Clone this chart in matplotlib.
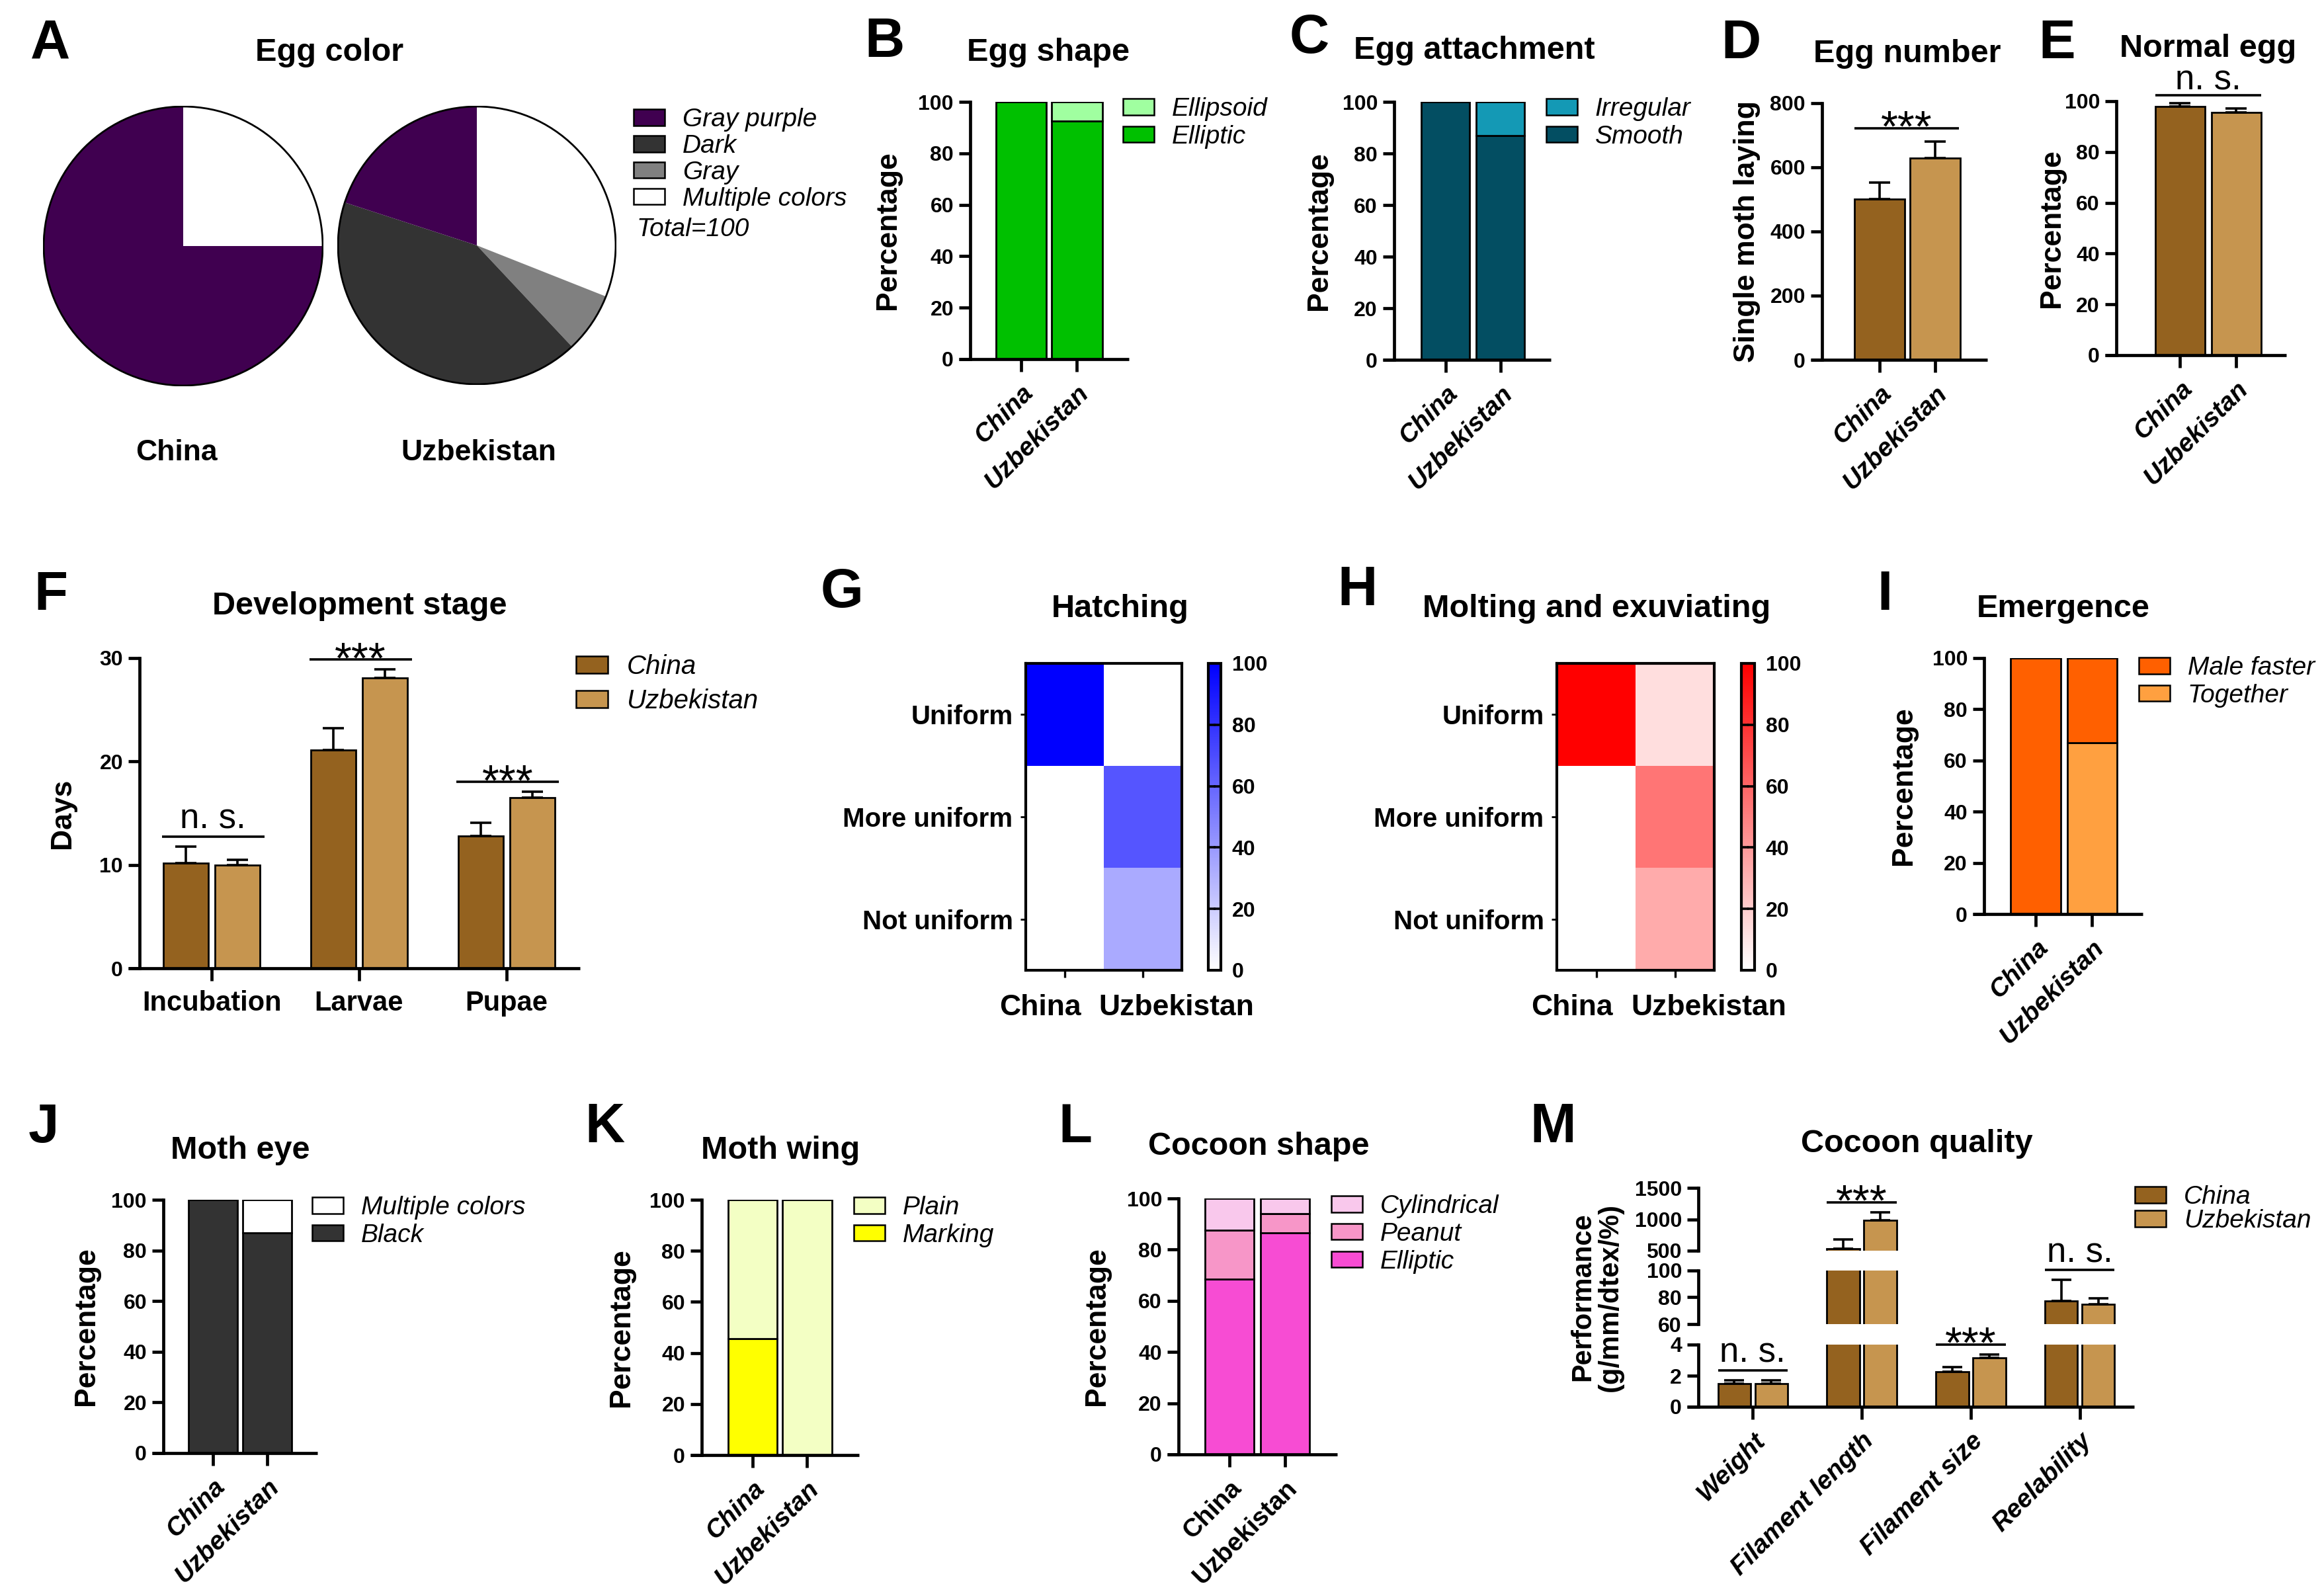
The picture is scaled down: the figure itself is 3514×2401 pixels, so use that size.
import numpy as np
import matplotlib
matplotlib.use('Agg')
import matplotlib.pyplot as plt
from matplotlib.colors import LinearSegmentedColormap
from matplotlib.patches import Circle, Patch
from matplotlib.lines import Line2D
from matplotlib.transforms import offset_copy, ScaledTranslation

plt.rcParams['font.family'] = ['Liberation Sans', 'DejaVu Sans']
plt.rcParams['font.weight'] = 'bold'

# ------------------------------------------------------------------ data
groups = ['China', 'Uzbekistan']

egg_color_labels = ['Gray purple', 'Dark', 'Gray', 'Multiple colors']
egg_color_china = [75, 0, 0, 25]
egg_color_uzbekistan = [20, 42, 7, 31]

egg_shape_labels = ['Ellipsoid', 'Elliptic']
egg_shape_elliptic = [100, 92.5]
egg_shape_ellipsoid = [0, 7.5]

egg_attach_labels = ['Irregular', 'Smooth']
egg_attach_smooth = [100, 87]
egg_attach_irregular = [0, 13]

egg_number_mean = [501, 628]
egg_number_err = [51, 52]

normal_egg_mean = [97.9, 95.6]
normal_egg_err = [1.2, 1.5]

dev_stages = ['Incubation', 'Larvae', 'Pupae']
dev_china = [10.2, 21.1, 12.8]
dev_china_err = [1.6, 2.1, 1.3]
dev_uzbekistan = [10.0, 28.1, 16.5]
dev_uzbekistan_err = [0.5, 0.8, 0.55]
dev_sig = ['n. s.', '***', '***']

uniform_levels = ['Uniform', 'More uniform', 'Not uniform']
hatching_china = [100, 0, 0]
hatching_uzbekistan = [0, 66.7, 33.3]
molting_china = [100, 0, 0]
molting_uzbekistan = [13, 54, 33]

emergence_labels = ['Male faster', 'Together']
emergence_together = [0, 67]
emergence_male_faster = [100, 33]

eye_labels = ['Multiple colors', 'Black']
eye_black = [100, 87]
eye_multiple = [0, 13]

wing_labels = ['Plain', 'Marking']
wing_marking = [45.5, 0]
wing_plain = [54.5, 100]

cocoon_labels = ['Cylindrical', 'Peanut', 'Elliptic']
cocoon_elliptic = [68.5, 86.5]
cocoon_peanut = [19.2, 7.6]
cocoon_cylindrical = [12.3, 5.9]

quality_traits = ['Weight', 'Filament length', 'Filament size', 'Reelability']
quality_china = [1.47, 536, 2.26, 77.4]
quality_china_err = [0.25, 143, 0.31, 15.4]
quality_uzbekistan = [1.49, 982, 3.13, 74.9]
quality_uzbekistan_err = [0.23, 133, 0.24, 4.2]
quality_sig = ['n. s.', '***', '***', 'n. s.']

# ------------------------------------------------------------------ style
C_PURPLE, C_DARK, C_GRAY, C_MULTI = '#400050', '#333333', '#808080', '#FFFFFF'
C_ELLIPSOID, C_ELLIPTIC = '#A0FFA0', '#00C000'
C_IRREG, C_SMOOTH = '#1499B5', '#034E62'
C_CHINA, C_UZB = '#94621F', '#C6954F'
C_MALE, C_TOGETHER = '#FF6000', '#FFA040'
C_BLACK = '#333333'
C_PLAIN, C_MARK = '#F3FFC4', '#FFFF00'
C_CYL, C_PEANUT, C_ELL2 = '#F9C8EC', '#F796C8', '#F74CD3'

W, H, DPI = 3514, 2401, 200
SPW = 1.7
fig = plt.figure(figsize=(W / DPI, H / DPI), dpi=DPI)


def pt(px):
    return px * 72.0 / DPI


def px_axes(l, t, r, b):
    return fig.add_axes([l / W, 1 - b / H, (r - l) / W, (b - t) / H])


def ftext(x, y, s, **kw):
    return fig.text(x / W, 1 - y / H, s, **kw)


def style_bar_axes(ax, xlim, ylim, yticks):
    ax.set_xlim(*xlim)
    ax.set_ylim(*ylim)
    ax.set_yticks(yticks)
    for s in ('top', 'right', 'bottom'):
        ax.spines[s].set_visible(False)
    ax.spines['left'].set_linewidth(SPW)
    ax.tick_params(axis='y', length=6, width=SPW, labelsize=11.5, pad=3)
    ax.tick_params(axis='x', length=7, width=SPW)
    ext = (6 * DPI / 72.0) / (ax.get_position().width * W)
    ax.add_line(Line2D([-ext, 1], [0, 0], transform=ax.transAxes, color='black',
                       lw=SPW, clip_on=False, solid_capstyle='butt'))
    ax.patch.set_visible(False)


def rot_labels(ax, labels, italic=True, fs=14, pad=5):
    ax.set_xticks(range(len(labels)))
    ax.set_xticklabels(labels, rotation=45, ha='right', va='top', rotation_mode='anchor',
                       fontsize=fs, fontstyle='italic' if italic else 'normal')
    ax.tick_params(axis='x', pad=pad)


def stacked(ax, layers, colors, width):
    x = np.arange(len(groups))
    bottom = np.zeros(len(groups))
    for vals, c in zip(layers, colors):
        ax.bar(x, vals, width, bottom=bottom, color=c, edgecolor='black', linewidth=1.0, zorder=2)
        bottom = bottom + np.array(vals, dtype=float)


def legend_px(labels, colors, x, y, fs=14, spacing=0.15):
    handles = [Patch(facecolor=c, edgecolor='black', linewidth=0.9) for c in colors]
    fig.legend(handles, labels, loc='upper left', bbox_to_anchor=(x / W, 1 - (y - 7) / H),
               bbox_transform=fig.transFigure, frameon=False, borderpad=0, borderaxespad=0,
               handlelength=1.2, handleheight=0.6, handletextpad=0.7, labelspacing=spacing,
               prop=dict(style='italic', weight='normal', size=fs))


def sig(ax, x0, x1, y, label, off=15, txt_gap=12):
    tr = offset_copy(ax.transData, fig=fig, y=pt(off), units='points')
    ax.plot([x0, x1], [y, y], transform=tr, color='black', lw=1.3, clip_on=False,
            solid_capstyle='butt', zorder=5)
    if label.startswith('*'):
        tr2 = offset_copy(ax.transData, fig=fig, y=pt(off - 20), units='points')
        ax.text((x0 + x1) / 2, y, label, transform=tr2, ha='center', va='baseline',
                fontsize=24, fontweight='normal', clip_on=False)
    else:
        tr2 = offset_copy(ax.transData, fig=fig, y=pt(off + txt_gap), units='points')
        ax.text((x0 + x1) / 2, y, label, transform=tr2, ha='center', va='baseline',
                fontsize=19, fontweight='normal', clip_on=False)


def err(ax, x, mean, e, capsize=5.8):
    ax.errorbar(x, mean, yerr=[np.zeros(len(e)), e], fmt='none', ecolor='black',
                elinewidth=1.3, capsize=capsize, capthick=1.3, zorder=3)


def title(x, y, s):
    ftext(x, y, s, ha='center', va='baseline', fontsize=17.5, fontweight='bold')


def letter(x, y, s):
    ftext(x, y, s, ha='left', va='baseline', fontsize=30, fontweight='bold')


def ylab(x, y, s, fs=16):
    ftext(x, y, s, ha='center', va='center', rotation=90, fontsize=fs, fontweight='bold',
          multialignment='center', linespacing=1.05)


# ------------------------------------------------------------------ A  pies
pie_colors = [C_PURPLE, C_DARK, C_GRAY, C_MULTI]
for vals, box, name, cx in [(egg_color_china, (65, 160, 489, 584), groups[0], 267),
                            (egg_color_uzbekistan, (510, 160, 932, 582), groups[1], 724)]:
    ax = px_axes(*box)
    ax.pie(vals[::-1], colors=pie_colors[::-1], startangle=90, counterclock=False,
           wedgeprops=dict(linewidth=0))
    ax.add_patch(Circle((0, 0), 1, fill=False, edgecolor='black', lw=1.0))
    ax.set_xlim(-1.005, 1.005)
    ax.set_ylim(-1.005, 1.005)
    ftext(cx, 696, name, ha='center', va='baseline', fontsize=16)
legend_px(egg_color_labels, pie_colors, 958, 170, spacing=0.1)
ftext(962, 357, 'Total=100', ha='left', va='baseline', fontsize=14, fontstyle='italic',
      fontweight='normal')
title(498, 92, 'Egg color')
letter(46, 88, 'A')

# ------------------------------------------------------------------ B
ax = px_axes(1467, 154, 1707, 543)
stacked(ax, [egg_shape_elliptic, egg_shape_ellipsoid], [C_ELLIPTIC, C_ELLIPSOID], 0.91)
style_bar_axes(ax, (-0.911, 1.929), (0, 100), range(0, 101, 20))
rot_labels(ax, groups)
legend_px(egg_shape_labels, [C_ELLIPSOID, C_ELLIPTIC], 1698, 154)
title(1585, 92, 'Egg shape')
letter(1307, 86, 'B')
ylab(1342, 348, 'Percentage')

# ------------------------------------------------------------------ C
ax = px_axes(2108, 154, 2345, 544)
stacked(ax, [egg_attach_smooth, egg_attach_irregular], [C_SMOOTH, C_IRREG], 0.88)
style_bar_axes(ax, (-0.94, 1.92), (0, 100), range(0, 101, 20))
rot_labels(ax, groups)
legend_px(egg_attach_labels, [C_IRREG, C_SMOOTH], 2338, 154)
title(2229, 89, 'Egg attachment')
letter(1950, 80, 'C')
ylab(1994, 349, 'Percentage')

# ------------------------------------------------------------------ D
ax = px_axes(2755, 155.5, 3005, 544)
x2 = np.arange(2)
ax.bar(x2, egg_number_mean, 0.9, color=[C_CHINA, C_UZB], edgecolor='black', linewidth=1.0, zorder=2)
err(ax, x2, egg_number_mean, egg_number_err)
top = max(np.add(egg_number_mean, egg_number_err))
sig(ax, -0.45, 1.42, top, '***', off=20)
style_bar_axes(ax, (-1.03, 1.93), (0, 800), range(0, 801, 200))
rot_labels(ax, groups)
title(2884, 94, 'Egg number')
letter(2602, 88, 'D')
ylab(2641, 350, 'Single moth laying')

# ------------------------------------------------------------------ E
ax = px_axes(3200, 153, 3457, 537)
ax.bar(x2, normal_egg_mean, 0.88, color=[C_CHINA, C_UZB], edgecolor='black', linewidth=1.0, zorder=2)
err(ax, x2, normal_egg_mean, normal_egg_err)
top = max(np.add(normal_egg_mean, normal_egg_err))
sig(ax, -0.44, 1.44, top, 'n. s.', off=12, txt_gap=9)
style_bar_axes(ax, (-1.135, 1.89), (0, 100), range(0, 101, 20))
rot_labels(ax, groups)
title(3339, 86, 'Normal egg')
letter(3082, 88, 'E')
ylab(3102, 345, 'Percentage')

# ------------------------------------------------------------------ F
ax = px_axes(211, 995, 877, 1464)
xs = np.arange(len(dev_stages))
bo, bw = 0.175, 0.305
ax.bar(xs - bo, dev_china, bw, color=C_CHINA, edgecolor='black', linewidth=1.0, zorder=2)
ax.bar(xs + bo, dev_uzbekistan, bw, color=C_UZB, edgecolor='black', linewidth=1.0, zorder=2)
err(ax, xs - bo, dev_china, dev_china_err)
err(ax, xs + bo, dev_uzbekistan, dev_uzbekistan_err)
for i, lab in enumerate(dev_sig):
    top = max(dev_china[i] + dev_china_err[i], dev_uzbekistan[i] + dev_uzbekistan_err[i])
    sig(ax, i - bo - bw / 2 - 0.01, i + bo + bw / 2 + 0.03, top, lab)
style_bar_axes(ax, (-0.49, 2.5), (0, 30), [0, 10, 20, 30])
ax.set_xticks(xs)
ax.set_xticklabels(dev_stages, fontsize=15)
ax.tick_params(axis='x', pad=5)
legend_px(groups, [C_CHINA, C_UZB], 871, 996, fs=14.5, spacing=0.35)
title(544, 929, 'Development stage')
letter(51, 922, 'F')
ylab(95, 1230, 'Days')


# ------------------------------------------------------------------ G / H heatmaps
def heatmap(box, cbox, china, uzb, color):
    ax = px_axes(*box)
    cax = px_axes(*cbox)
    cmap = LinearSegmentedColormap.from_list('c', ['#FFFFFF', color])
    data = np.column_stack([china, uzb])
    pcm = ax.pcolormesh(data, cmap=cmap, vmin=0, vmax=100)
    ax.set_xlim(0, 2)
    ax.set_ylim(3, 0)
    ax.set_yticks(np.arange(3) + 0.5)
    ax.set_yticklabels(uniform_levels, fontsize=14.5)
    ax.set_xticks(np.arange(2) + 0.5)
    ax.set_xticklabels(['', ''])
    ax.tick_params(axis='y', length=3, width=1.0, pad=4)
    ax.tick_params(axis='x', length=4, width=1.2)
    for lab, xc, dx in zip(groups, np.arange(2) + 0.5, [-37, 51]):
        tr = ax.get_xaxis_transform() + ScaledTranslation(dx / DPI, -36 / DPI, fig.dpi_scale_trans)
        ax.text(xc, 0, lab, transform=tr, ha='center', va='top', fontsize=16)
    for s in ax.spines.values():
        s.set_linewidth(1.5)
    cb = fig.colorbar(pcm, cax=cax, ticks=range(0, 101, 20))
    cb.outline.set_linewidth(1.5)
    cax.tick_params(labelsize=11.5, direction='in', length=4, width=1.3, left=True, right=True, pad=6)


heatmap((1551, 1003, 1787, 1467), (1827, 1003, 1846, 1467), hatching_china, hatching_uzbekistan, '#0000FF')
title(1694, 933, 'Hatching')
letter(1241, 918, 'G')
heatmap((2354, 1003, 2592, 1467), (2633, 1003, 2653, 1467), molting_china, molting_uzbekistan, '#FF0000')
title(2414, 933, 'Molting and exuviating')
letter(2022, 915, 'H')

# ------------------------------------------------------------------ I
ax = px_axes(3000, 995, 3240, 1382)
stacked(ax, [emergence_together, emergence_male_faster], [C_TOGETHER, C_MALE], 0.89)
style_bar_axes(ax, (-0.92, 1.9), (0, 100), range(0, 101, 20))
rot_labels(ax, groups)
legend_px(emergence_labels, [C_MALE, C_TOGETHER], 3234, 999)
title(3120, 933, 'Emergence')
letter(2838, 922, 'I')
ylab(2878, 1188, 'Percentage')

# ------------------------------------------------------------------ J
ax = px_axes(247, 1814, 480, 2197)
stacked(ax, [eye_black, eye_multiple], [C_BLACK, '#FFFFFF'], 0.9)
style_bar_axes(ax, (-0.91, 1.92), (0, 100), range(0, 101, 20))
rot_labels(ax, groups)
legend_px(eye_labels, ['#FFFFFF', C_BLACK], 472, 1815)
title(363, 1752, 'Moth eye')
letter(43, 1727, 'J')
ylab(130, 2005, 'Percentage')

# ------------------------------------------------------------------ K
ax = px_axes(1061, 1814, 1299, 2200)
stacked(ax, [wing_marking, wing_plain], [C_MARK, C_PLAIN], 0.9)
style_bar_axes(ax, (-0.93, 1.95), (0, 100), range(0, 101, 20))
rot_labels(ax, groups)
legend_px(wing_labels, [C_PLAIN, C_MARK], 1291, 1815)
title(1180, 1752, 'Moth wing')
letter(884, 1727, 'K')
ylab(940, 2007, 'Percentage')

# ------------------------------------------------------------------ L
ax = px_axes(1782, 1812, 2022, 2199)
stacked(ax, [cocoon_elliptic, cocoon_peanut, cocoon_cylindrical], [C_ELL2, C_PEANUT, C_CYL], 0.88)
style_bar_axes(ax, (-0.92, 1.94), (0, 100), range(0, 101, 20))
rot_labels(ax, groups, italic=False)
legend_px(cocoon_labels, [C_CYL, C_PEANUT, C_ELL2], 2013, 1813)
title(1903, 1746, 'Cocoon shape')
letter(1600, 1727, 'L')
ylab(1659, 2005, 'Percentage')

# ------------------------------------------------------------------ M broken axis
segments = [((0, 4), [0, 2, 4], (2033, 2127)),
            ((60, 100), [60, 80, 100], (1920.5, 2002)),
            ((500, 1500), [500, 1000, 1500], (1796, 1891))]
xm = np.arange(len(quality_traits))
mo, mw = 0.17, 0.3
m_axes = []
for k, (lim, ticks, (t, b)) in enumerate(segments):
    ax = px_axes(2568, t, 3227, b)
    ax.bar(xm - mo, quality_china, mw, color=C_CHINA, edgecolor='black', linewidth=1.0, zorder=2)
    ax.bar(xm + mo, quality_uzbekistan, mw, color=C_UZB, edgecolor='black', linewidth=1.0, zorder=2)
    err(ax, xm - mo, quality_china, quality_china_err, capsize=5.5)
    err(ax, xm + mo, quality_uzbekistan, quality_uzbekistan_err, capsize=5.5)
    if k == 0:
        style_bar_axes(ax, (-0.5, 3.5), lim, ticks)
        rot_labels(ax, quality_traits, fs=14)
    else:
        ax.set_xlim(-0.5, 3.5)
        ax.set_ylim(*lim)
        ax.set_yticks(ticks)
        for s in ('top', 'right', 'bottom'):
            ax.spines[s].set_visible(False)
        ax.spines['left'].set_linewidth(SPW)
        ax.tick_params(axis='y', length=6, width=SPW, labelsize=11.5, pad=3)
        ax.set_xticks([])
        ax.patch.set_visible(False)
    m_axes.append(ax)

for g, lab in enumerate(quality_sig):
    top = max(quality_china[g] + quality_china_err[g], quality_uzbekistan[g] + quality_uzbekistan_err[g])
    for ax, (lim, ticks, _) in zip(m_axes, segments):
        if lim[0] <= top <= lim[1]:
            sig(ax, g - mo - mw / 2, g + mo + mw / 2, top, lab)
            break

legend_px(groups, [C_CHINA, C_UZB], 3228, 1799, spacing=0.0)
title(2898, 1742, 'Cocoon quality')
letter(2313, 1727, 'M')
ylab(2414, 1961, 'Performance\n(g/mm/dtex/%)', fs=15)

fig.savefig('out.png', dpi=DPI)
